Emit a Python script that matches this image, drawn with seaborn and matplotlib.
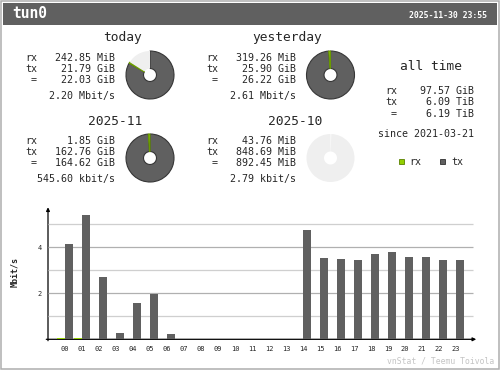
import pandas as pd
import matplotlib.pyplot as plt
import seaborn as sns
from matplotlib.patches import Rectangle

# hourly traffic, Mbit/s
hours = ['%02d' % h for h in range(24)]
rx_rate = [0.05, 0.05, 0, 0, 0, 0, 0, 0, 0, 0, 0, 0, 0, 0, 0, 0, 0, 0, 0, 0, 0, 0, 0, 0]
tx_rate = [4.15, 5.40, 2.72, 0.27, 1.57, 1.97, 0.22, 0, 0, 0, 0, 0, 0, 0,
           4.75, 3.52, 3.48, 3.43, 3.70, 3.78, 3.57, 3.57, 3.43, 3.43]

# summary blocks: rx / tx in GiB for the pies, text as shown
day_titles = ['today', 'yesterday']
day_rx = [242.85 / 1024, 319.26 / 1024]
day_tx = [21.79, 25.90]
day_text = [['242.85 MiB', '21.79 GiB', '22.03 GiB', '2.20 Mbit/s'],
            ['319.26 MiB', '25.90 GiB', '26.22 GiB', '2.61 Mbit/s']]

month_titles = ['2025-11', '2025-10']
month_rx = [1.85, 43.76 / 1024]
month_tx = [162.76, 848.69 / 1024]
month_text = [['1.85 GiB', '162.76 GiB', '164.62 GiB', '545.60 kbit/s'],
              ['43.76 MiB', '848.69 MiB', '892.45 MiB', '2.79 kbit/s']]

alltime_text = ['97.57 GiB', '6.09 TiB', '6.19 TiB']
since = 'since 2021-03-21'

RX = '#92cf00'
TX = '#606060'
EMPTY = '#efefef'

sns.set_style('white')
plt.rcParams['font.family'] = ['DejaVu Sans Mono']

W, H = 500, 370
fig = plt.figure(figsize=(5, 3.7), dpi=100)

# overlay in pixel coords for the text blocks
bg = fig.add_axes([0, 0, 1, 1])
bg.set_xlim(0, W)
bg.set_ylim(H, 0)
bg.axis('off')
bg.add_patch(Rectangle((0.75, 0.75), W - 1.5, H - 1.5, fill=False, ec='#aeaeae', lw=1.1))
bg.add_patch(Rectangle((3, 3), 494, 22, color='#606060', lw=0))
bg.text(12, 18.3, 'tun0', color='white', fontsize=10.5, fontweight='bold', va='baseline')
bg.text(487, 17.5, '2025-11-30 23:55', color='white', fontsize=5.9, fontweight='bold',
        va='baseline', ha='right')


def block(title, title_right, tby, lx, vx, rows_y, values):
    bg.text(title_right, tby, title, fontsize=9.3, ha='right', va='baseline')
    for lab, y, v in zip(['rx', 'tx', '=', ''], rows_y, values):
        if lab == '=':
            bg.text(lx + 9, y, lab, fontsize=7.2, ha='center', va='baseline')
        elif lab:
            bg.text(lx, y, lab, fontsize=7.2, va='baseline')
        bg.text(vx, y, v, fontsize=7.2, ha='right', va='baseline')


def ring(cx, cy, tx, rx, top):
    r = 24
    pax = fig.add_axes([(cx - r) / W, 1 - (cy + r) / H, 2 * r / W, 2 * r / H])
    wedges, _ = pax.pie([tx, rx, max(0, top - tx - rx)], colors=[TX, RX, EMPTY], startangle=90,
                        counterclock=False, wedgeprops=dict(width=0.73, linewidth=0.8))
    wedges[0].set_edgecolor('#363636')
    wedges[1].set_edgecolor('#6a9a00')
    wedges[2].set_edgecolor('none')
    if (tx + rx) / top < 0.01:
        wedges[0].set_visible(False)
        wedges[1].set_visible(False)
    pax.set_xlim(-1, 1)
    pax.set_ylim(-1, 1)


col_lx = [25, 206]
col_vx = [115, 296]
col_title = [142, 322]
ring_cx = [150, 330.5]

day_top = max(r + t for r, t in zip(day_rx, day_tx))
month_top = max(r + t for r, t in zip(month_rx, month_tx))
for i in range(2):
    block(day_titles[i], col_title[i], 41, col_lx[i], col_vx[i], [61, 72, 83, 99], day_text[i])
    ring(ring_cx[i], 75, day_tx[i], day_rx[i], day_top)
    block(month_titles[i], col_title[i], 125, col_lx[i], col_vx[i], [144, 155, 166, 182], month_text[i])
    ring(ring_cx[i], 158, month_tx[i], month_rx[i], month_top)

block('all time', 462, 70, 385, 474, [94, 105, 117], alltime_text)
bg.text(474, 137, since, fontsize=7.2, ha='right', va='baseline')
bg.add_patch(Rectangle((399, 159), 5, 5, fc=RX, ec='#5a8000', lw=0.6))
bg.text(409, 165, 'rx', fontsize=7.2, va='baseline')
bg.add_patch(Rectangle((440, 159), 5, 5, fc=TX, ec='#303030', lw=0.6))
bg.text(451, 165, 'tx', fontsize=7.2, va='baseline')

# hourly bar chart
x0, x1, y0, y1 = 48, 477, 339.3, 206.7
step = 17.0
c0 = 65.0
ax = fig.add_axes([x0 / W, 1 - y0 / H, (x1 - x0) / W, (y0 - y1) / H])
ax.patch.set_alpha(0)

df = pd.DataFrame({'hour': hours * 2,
                   'dir': ['rx'] * 24 + ['tx'] * 24,
                   'rate': rx_rate + tx_rate})
sns.barplot(data=df, x='hour', y='rate', hue='dir', order=hours, hue_order=['rx', 'tx'],
            palette={'rx': RX, 'tx': TX}, width=0.94, saturation=1, errorbar=None,
            linewidth=0, legend=False, ax=ax, zorder=3)

xl = -(c0 - x0) / step
ax.set_xlim(xl, xl + (x1 - x0) / step)
ax.set_ylim(0, (y0 - y1) / 23.0)
gx = xl + (472.7 - x0) / step
ax.hlines([1, 3, 5], xl, gx, colors='#cfcfcf', lw=0.9, zorder=1)
ax.hlines([2, 4], xl, gx, colors='#b0b0b0', lw=0.9, zorder=1)
for s in ax.spines.values():
    s.set_visible(False)
ax.set_yticks([2, 4])
ax.set_yticklabels(['2', '4'])
ax.tick_params(axis='both', length=0, labelsize=5, pad=4.5)
ax.set_xlabel('')
ax.set_ylabel('')

# axes with arrows
bg.annotate('', xy=(48, 204.5), xytext=(48, 343.5),
            arrowprops=dict(arrowstyle='-|>', color='black', lw=0.9, mutation_scale=5))
bg.annotate('', xy=(479, 339.3), xytext=(43.5, 339.3),
            arrowprops=dict(arrowstyle='-|>', color='black', lw=0.9, mutation_scale=5))

bg.text(15, 272, 'Mbit/s', fontsize=6, fontweight='bold', rotation=90, ha='center', va='center')
bg.text(494, 364, 'vnStat / Teemu Toivola', fontsize=5.9, color='#c4c4c4', ha='right', va='baseline')

fig.savefig('out.png', dpi=100)
